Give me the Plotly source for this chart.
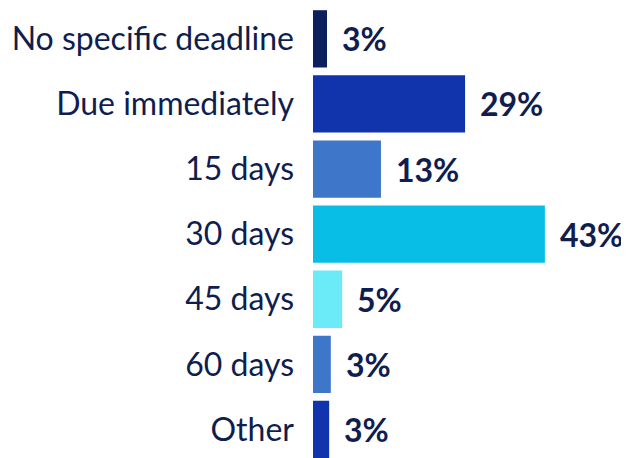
import plotly.graph_objects as go

categories = ["No specific deadline", "Due immediately", "15 days", "30 days", "45 days", "60 days", "Other"]
values = [2.6, 28.2, 12.6, 43.0, 5.4, 3.3, 3.0]
value_labels = ["3%", "29%", "13%", "43%", "5%", "3%", "3%"]
colors = ["#0e1f5e", "#1133ab", "#3e77c9", "#08bee6", "#6aebf7", "#3e77c9", "#1133ab"]

TEXT = "#101d4f"
FONT = "Lato, 'Open Sans', sans-serif"

fig = go.Figure(go.Bar(
    x=values, y=categories, orientation="h",
    marker=dict(color=colors, line=dict(width=0)),
    width=0.88, hoverinfo="skip",
))

for c, v, t in zip(categories, values, value_labels):
    fig.add_annotation(x=v, y=c, text=t, showarrow=False, xanchor="left", yanchor="middle",
                       xshift=13, font=dict(family=FONT, size=32, color=TEXT, weight=700))

fig.update_layout(
    width=621, height=450,
    margin=dict(l=305, r=0, t=0, b=0, autoexpand=False),
    paper_bgcolor="white", plot_bgcolor="white",
    showlegend=False,
    xaxis=dict(range=[0, 58.6], visible=False, fixedrange=True, automargin=False),
    yaxis=dict(type="category", categoryorder="array", categoryarray=categories,
               range=[6.439, -0.474], showgrid=False, zeroline=False, showline=False,
               ticks="", ticklabelstandoff=18, automargin=False,
               tickfont=dict(family=FONT, size=32, color=TEXT)),
)

fig.write_html("out.html")
